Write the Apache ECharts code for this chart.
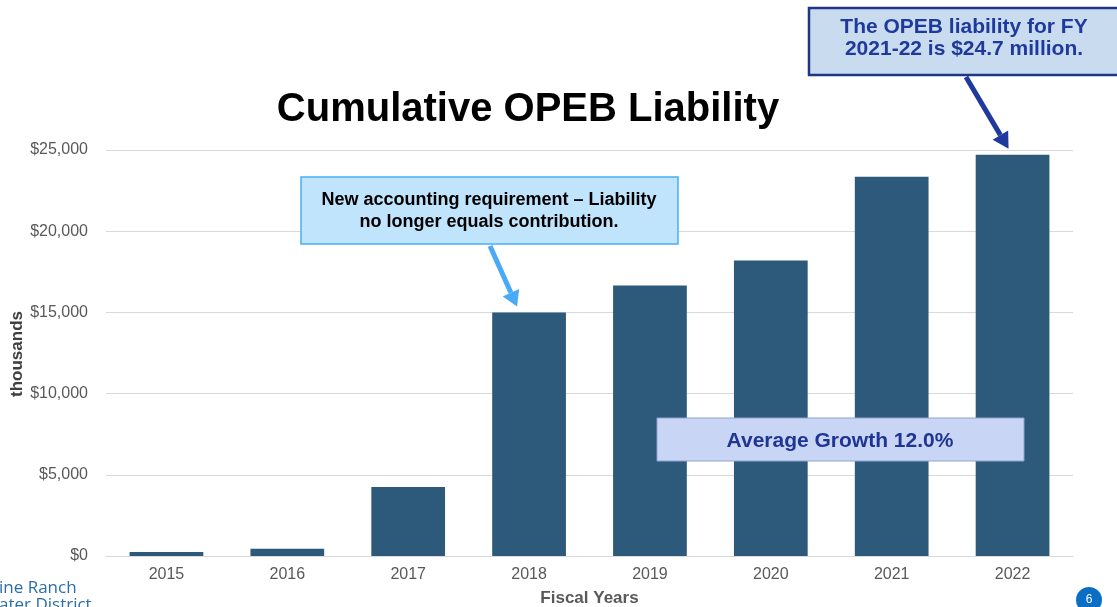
<!DOCTYPE html>
<html>
<head>
<meta charset="utf-8">
<script src="https://cdn.jsdelivr.net/npm/echarts@6/dist/echarts.min.js"></script>
<style>
  html, body { margin: 0; padding: 0; background: #fff; }
  #chart { width: 1117px; height: 607px; }
</style>
</head>
<body>
<div id="chart"></div>
<script>
var years = ['2015', '2016', '2017', '2018', '2019', '2020', '2021', '2022'];
var liability = [250, 450, 4250, 15000, 16650, 18200, 23350, 24700];
var yTicks = [0, 5000, 10000, 15000, 20000, 25000];

var chart = echarts.init(document.getElementById('chart'));

var option = {
    animation: false,
    textStyle: { fontFamily: 'Liberation Sans, Arial, sans-serif' },
    title: {
        text: 'Cumulative OPEB Liability',
        left: 523,
        textAlign: 'center',
        top: 85,
        textStyle: { fontSize: 40, fontWeight: 'bold', color: '#000' }
    },
    grid: { left: 106, right: 44, top: 150, bottom: 51, outerBoundsMode: 'none', containLabel: false },
    xAxis: {
        type: 'category',
        data: years,
        name: 'Fiscal Years',
        nameLocation: 'middle',
        nameGap: 34,
        nameTextStyle: { fontSize: 17, fontWeight: 'bold', color: '#595959' },
        axisLine: { lineStyle: { color: '#d9d9d9' } },
        axisTick: { show: false },
        axisLabel: { fontSize: 16, color: '#595959', margin: 11 }
    },
    yAxis: {
        type: 'value',
        min: yTicks[0],
        max: yTicks[yTicks.length - 1],
        interval: 5000,
        splitLine: { lineStyle: { color: '#d9d9d9' } },
        axisLabel: {
            fontSize: 16,
            color: '#595959',
            margin: 18,
            formatter: function (v) { return '$' + v.toLocaleString('en-US'); }
        }
    },
    series: [{
        type: 'bar',
        data: liability,
        barWidth: '61%',
        itemStyle: { color: '#2d5a7b' }
    }]
};
chart.setOption(option);

// arrow helper: shaft + head, tip at (x2, y2)
function arrow(x1, y1, x2, y2, color, w, headLen, headW) {
    var dx = x2 - x1, dy = y2 - y1;
    var len = Math.sqrt(dx * dx + dy * dy);
    var ux = dx / len, uy = dy / len;
    var bx = x2 - ux * headLen, by = y2 - uy * headLen;
    return [{
        type: 'line',
        shape: { x1: x1, y1: y1, x2: bx, y2: by },
        style: { stroke: color, lineWidth: w },
        z: 100
    }, {
        type: 'polygon',
        shape: { points: [[x2, y2], [bx - uy * headW, by + ux * headW], [bx + uy * headW, by - ux * headW]] },
        style: { fill: color },
        z: 100
    }];
}

var tip2018 = chart.convertToPixel({ seriesIndex: 0 }, ['2018', liability[3]]);
var tip2022 = chart.convertToPixel({ seriesIndex: 0 }, ['2022', liability[7]]);

var graphics = [];
// y axis name
graphics.push({
    type: 'text', x: 17, y: 354, rotation: Math.PI / 2, z: 95,
    style: {
        text: 'thousands', fill: '#404040',
        font: 'bold 17px Liberation Sans, Arial, sans-serif',
        align: 'center', verticalAlign: 'middle'
    }
});
// new accounting requirement callout
graphics.push({
    type: 'rect', shape: { x: 301, y: 177, width: 377, height: 67 },
    style: { fill: '#bfe4fc', stroke: '#4aaef5', lineWidth: 1.5 }, z: 90
});
graphics.push({
    type: 'text', x: 489, y: 211, z: 95,
    style: {
        text: 'New accounting requirement – Liability\nno longer equals contribution.',
        fill: '#000', font: 'bold 18px Liberation Sans, Arial, sans-serif',
        align: 'center', verticalAlign: 'middle', lineHeight: 22
    }
});
graphics = graphics.concat(arrow(490, 246, tip2018[0] - 12, tip2018[1] - 6, '#4aaaf7', 5, 15, 9));

// FY 2021-22 callout
graphics.push({
    type: 'rect', shape: { x: 809, y: 8, width: 320, height: 67 },
    style: { fill: '#c9dcef', stroke: '#1f3585', lineWidth: 2.5 }, z: 90
});
graphics.push({
    type: 'text', x: 964, y: 38, z: 95,
    style: {
        text: 'The OPEB liability for FY\n2021-22 is $24.7 million.',
        fill: '#1f3a9c', font: 'bold 21px Liberation Sans, Arial, sans-serif',
        align: 'center', verticalAlign: 'middle', lineHeight: 22
    }
});
graphics = graphics.concat(arrow(966, 77, tip2022[0] - 4, tip2022[1] - 6, '#1f3a9c', 5, 16, 9));

// average growth box
graphics.push({
    type: 'rect', shape: { x: 657, y: 418, width: 367, height: 43 },
    style: { fill: '#c9d5f5', stroke: '#8fa3cf', lineWidth: 1 }, z: 90
});
graphics.push({
    type: 'text', x: 840, y: 441, z: 95,
    style: {
        text: 'Average Growth 12.0%',
        fill: '#1f3592', font: 'bold 21px Liberation Sans, Arial, sans-serif',
        align: 'center', verticalAlign: 'middle'
    }
});

// logo fragment and page number
graphics.push({
    type: 'text', x: -1, y: 580, z: 95,
    style: {
        text: 'ine Ranch\nater District', fill: '#2b6ea8',
        font: '17px Open Sans, Liberation Sans, sans-serif', lineHeight: 17
    }
});
graphics.push({
    type: 'circle', shape: { cx: 1089, cy: 600, r: 13 },
    style: { fill: '#0a6fc4' }, z: 90
});
graphics.push({
    type: 'text', x: 1089, y: 600, z: 95,
    style: { text: '6', fill: '#fff', font: '12px Liberation Sans, Arial, sans-serif', align: 'center', verticalAlign: 'middle' }
});

chart.setOption({ graphic: graphics });
</script>
</body>
</html>
